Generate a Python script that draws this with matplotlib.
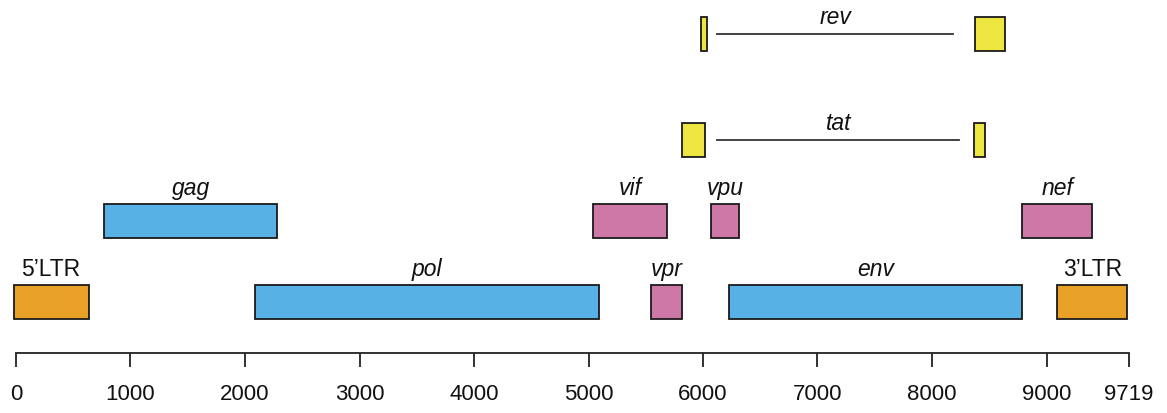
import matplotlib.pyplot as plt
from matplotlib.patches import Rectangle

plt.rcParams['font.family'] = ['Liberation Sans', 'DejaVu Sans']

# genes: name, start, end, row, colour group
names = ['5\u2019LTR', 'gag', 'pol', 'vif', 'vpr', 'vpu', 'env', 'nef', '3\u2019LTR']
starts = [-20, 771, 2083, 5040, 5548, 6070, 6227, 8786, 9092]
ends = [634, 2282, 5089, 5685, 5816, 6316, 8786, 9400, 9706]
rows = [2, 1, 2, 1, 2, 1, 2, 1, 2]
kinds = ['ltr', 'struct', 'struct', 'acc', 'acc', 'acc', 'struct', 'acc', 'ltr']

# spliced genes: two exons joined by a line
spliced = ['rev', 'tat']
exon1 = [(5979, 6031), (5814, 6020)]
exon2 = [(8378, 8640), (8370, 8466)]
intron = [(6125, 8186), (6125, 8238)]
spliced_rows = [4, 3]

ticks = [0, 1000, 2000, 3000, 4000, 5000, 6000, 7000, 8000, 9000, 9719]

colors = {'ltr': '#E8A027', 'struct': '#58B1E4', 'acc': '#CD78A7', 'spl': '#EDE640'}
row_y = {4: 34, 3: 140, 1: 221, 2: 302}
h = 34

fig = plt.figure(figsize=(11.67, 4.13), dpi=100)
ax = fig.add_axes([0, 0, 1, 1])
ax.set_xlim(-16 / 0.1145, (1167 - 16) / 0.1145)
ax.set_ylim(413, 0)

for n, s, e, r, k in zip(names, starts, ends, rows, kinds):
    y = row_y[r]
    ax.add_patch(Rectangle((s, y - h / 2), e - s, h, facecolor=colors[k],
                           edgecolor='#1a1a1a', linewidth=1.3))
    style = 'normal' if 'LTR' in n else 'italic'
    ax.text((s + e) / 2, y - h / 2 - 4, n, ha='center', va='bottom',
            fontsize=16.5, style=style, color='#111111')

for n, a, b, ln, r in zip(spliced, exon1, exon2, intron, spliced_rows):
    y = row_y[r]
    for s, e in (a, b):
        ax.add_patch(Rectangle((s, y - h / 2), e - s, h, facecolor=colors['spl'],
                               edgecolor='#1a1a1a', linewidth=1.3))
    ax.plot(ln, [y, y], color='#333333', linewidth=1.3)
    ax.text((ln[0] + ln[1]) / 2, y - 5, n, ha='center', va='bottom',
            fontsize=16.5, style='italic', color='#111111')

for sp in ['top', 'left', 'right']:
    ax.spines[sp].set_visible(False)
ax.spines['bottom'].set_position(('data', 353))
ax.spines['bottom'].set_bounds(0, 9719)
ax.spines['bottom'].set_linewidth(1.3)
ax.spines['bottom'].set_color('#222222')
ax.set_xticks(ticks)
ax.set_xticklabels([str(t) for t in ticks])
ax.tick_params(axis='x', direction='out', length=10, width=1.3, color='#222222',
               labelsize=16, pad=12, labelcolor='#111111')
ax.set_yticks([])

fig.savefig('out.png', dpi=100)
